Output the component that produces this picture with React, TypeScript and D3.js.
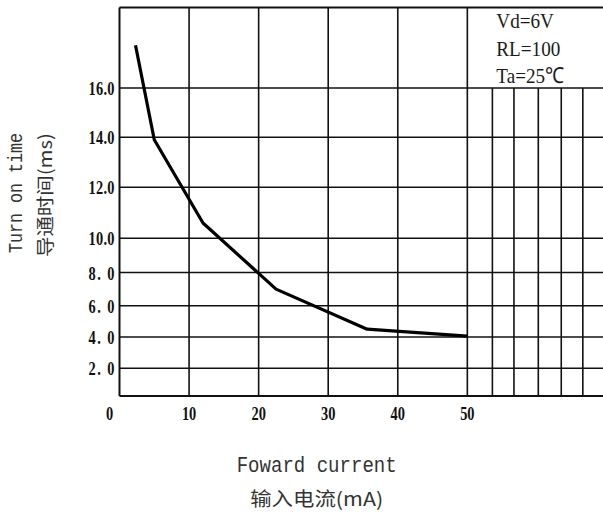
import React from "react";
import * as d3 from "d3";

const W = 603;
const H = 514;

// Curve data: forward current (mA) vs turn-on time (ms)
const currentMA = [2.3, 5.0, 12.0, 22.5, 35.6, 50.0];
const turnOnMs = [17.7, 13.9, 10.6, 7.0, 4.5, 4.05];

// Axis ticks
const xTicks = [0, 10, 20, 30, 40, 50];
const xTickLabels = ["0", "10", "20", "30", "40", "50"];
const yTicks = [2, 4, 6, 8, 10, 12, 14, 16];
const yTickLabels = ["2. 0", "4. 0", "6. 0", "8. 0", "10.0", "12.0", "14.0", "16.0"];
// extra decorative grid lines beyond 50 mA
const extraX = [53.6, 56.7, 60.2, 63.5, 66.6];
const legendLines = ["Vd=6V", "RL=100", "Ta=25℃"];

// non-uniform vertical axis of the original datasheet
const yDomain = [0, 2, 4, 6, 8, 10, 12, 14, 16, 19.2];
const yRange = [396, 368.3, 337, 305.7, 272.5, 238.3, 187.3, 137.3, 88, 7.5];

export default function App() {
  const x = d3.scaleLinear().domain([0, 69.5]).range([119.5, 603]);
  const y = d3.scaleLinear().domain(yDomain).range(yRange);
  const yTop = y(19.2);
  const yBot = y(0);
  const xL = x(0);
  const xR = x(69.5);

  const pts: [number, number][] = currentMA.map((c, i) => [c, turnOnMs[i]]);
  const line = d3
    .line<[number, number]>()
    .x((d) => x(d[0]))
    .y((d) => y(d[1]));

  const gridColor = "#111";
  const gw = 1.6;
  const sx = 0.8;
  const lsx = 0.87;

  return (
    <svg
      width={W}
      height={H}
      style={{ position: "absolute", left: 0, top: 0, background: "#fff" }}
    >
      <rect x={0} y={0} width={W} height={H} fill="#fff" />
      {/* horizontal grid lines */}
      {yTicks.map((t) => (
        <line key={"h" + t} x1={xL} x2={xR} y1={y(t)} y2={y(t)} stroke={gridColor} strokeWidth={gw} />
      ))}
      <line x1={xL} x2={xR} y1={yTop} y2={yTop} stroke={gridColor} strokeWidth={2} />
      <line x1={xL} x2={xR} y1={yBot} y2={yBot} stroke={gridColor} strokeWidth={2} />
      {/* vertical grid lines */}
      {xTicks.map((t) => (
        <line key={"v" + t} x1={x(t)} x2={x(t)} y1={yTop} y2={yBot} stroke={gridColor} strokeWidth={t === 0 ? 2 : gw} />
      ))}
      {extraX.map((t) => (
        <line key={"e" + t} x1={x(t)} x2={x(t)} y1={y(16)} y2={yBot} stroke={gridColor} strokeWidth={gw} />
      ))}
      {/* curve */}
      <path
        d={line(pts) || ""}
        fill="none"
        stroke="#000"
        strokeWidth={3.2}
        strokeLinejoin="round"
        strokeLinecap="butt"
      />
      {/* y tick labels */}
      {yTicks.map((t, i) => (
        <text
          key={"yl" + t}
          transform={`translate(${xL - 5},${y(t) + 1}) scale(${sx},1)`}
          textAnchor="end"
          dominantBaseline="central"
          fontFamily="'Liberation Serif', serif"
          fontWeight="bold"
          fontSize={18}
          textLength={32.5}
          lengthAdjust="spacing"
          fill="#111"
        >
          {yTickLabels[i]}
        </text>
      ))}
      {/* x tick labels */}
      {xTicks.map((t, i) => (
        <text
          key={"xl" + t}
          transform={`translate(${x(t) + (t === 0 ? -10 : 0)},${yBot + 18}) scale(${sx},1)`}
          textAnchor="middle"
          dominantBaseline="central"
          fontFamily="'Liberation Serif', serif"
          fontWeight="bold"
          fontSize={18}
          fill="#111"
        >
          {xTickLabels[i]}
        </text>
      ))}
      {/* legend */}
      {legendLines.map((s, i) => (
        <text
          key={"lg" + i}
          transform={`translate(${x(50) + 29},${28.3 + i * 27.2}) scale(${lsx},1)`}
          fontFamily="'Liberation Serif', serif"
          fontSize={22}
          fill="#1a1a1a"
        >
          {s}
        </text>
      ))}
      {/* y axis titles */}
      <text
        transform="translate(16,193) rotate(-90)"
        textAnchor="middle"
        dominantBaseline="central"
        fontFamily="'Liberation Mono', monospace"
        fontSize={21}
        textLength={120}
        lengthAdjust="spacingAndGlyphs"
        fill="#333"
      >
        Turn on time
      </text>
      <text
        transform="translate(44,195) rotate(-90)"
        textAnchor="middle"
        dominantBaseline="central"
        fontFamily="'Noto Sans CJK SC', sans-serif"
        fontSize={18}
        textLength={124}
        lengthAdjust="spacingAndGlyphs"
        fill="#333"
      >
        导通时间(ms)
      </text>
      {/* x axis titles */}
      <text
        x={316.7}
        y={466}
        textAnchor="middle"
        dominantBaseline="central"
        fontFamily="'Liberation Mono', monospace"
        fontSize={22}
        textLength={160}
        lengthAdjust="spacingAndGlyphs"
        fill="#333"
      >
        Foward current
      </text>
      <text
        x={316.7}
        y={497}
        textAnchor="middle"
        dominantBaseline="central"
        fontFamily="'Noto Sans CJK SC', sans-serif"
        fontSize={19}
        textLength={133}
        lengthAdjust="spacingAndGlyphs"
        fill="#333"
      >
        输入电流(mA)
      </text>
    </svg>
  );
}
